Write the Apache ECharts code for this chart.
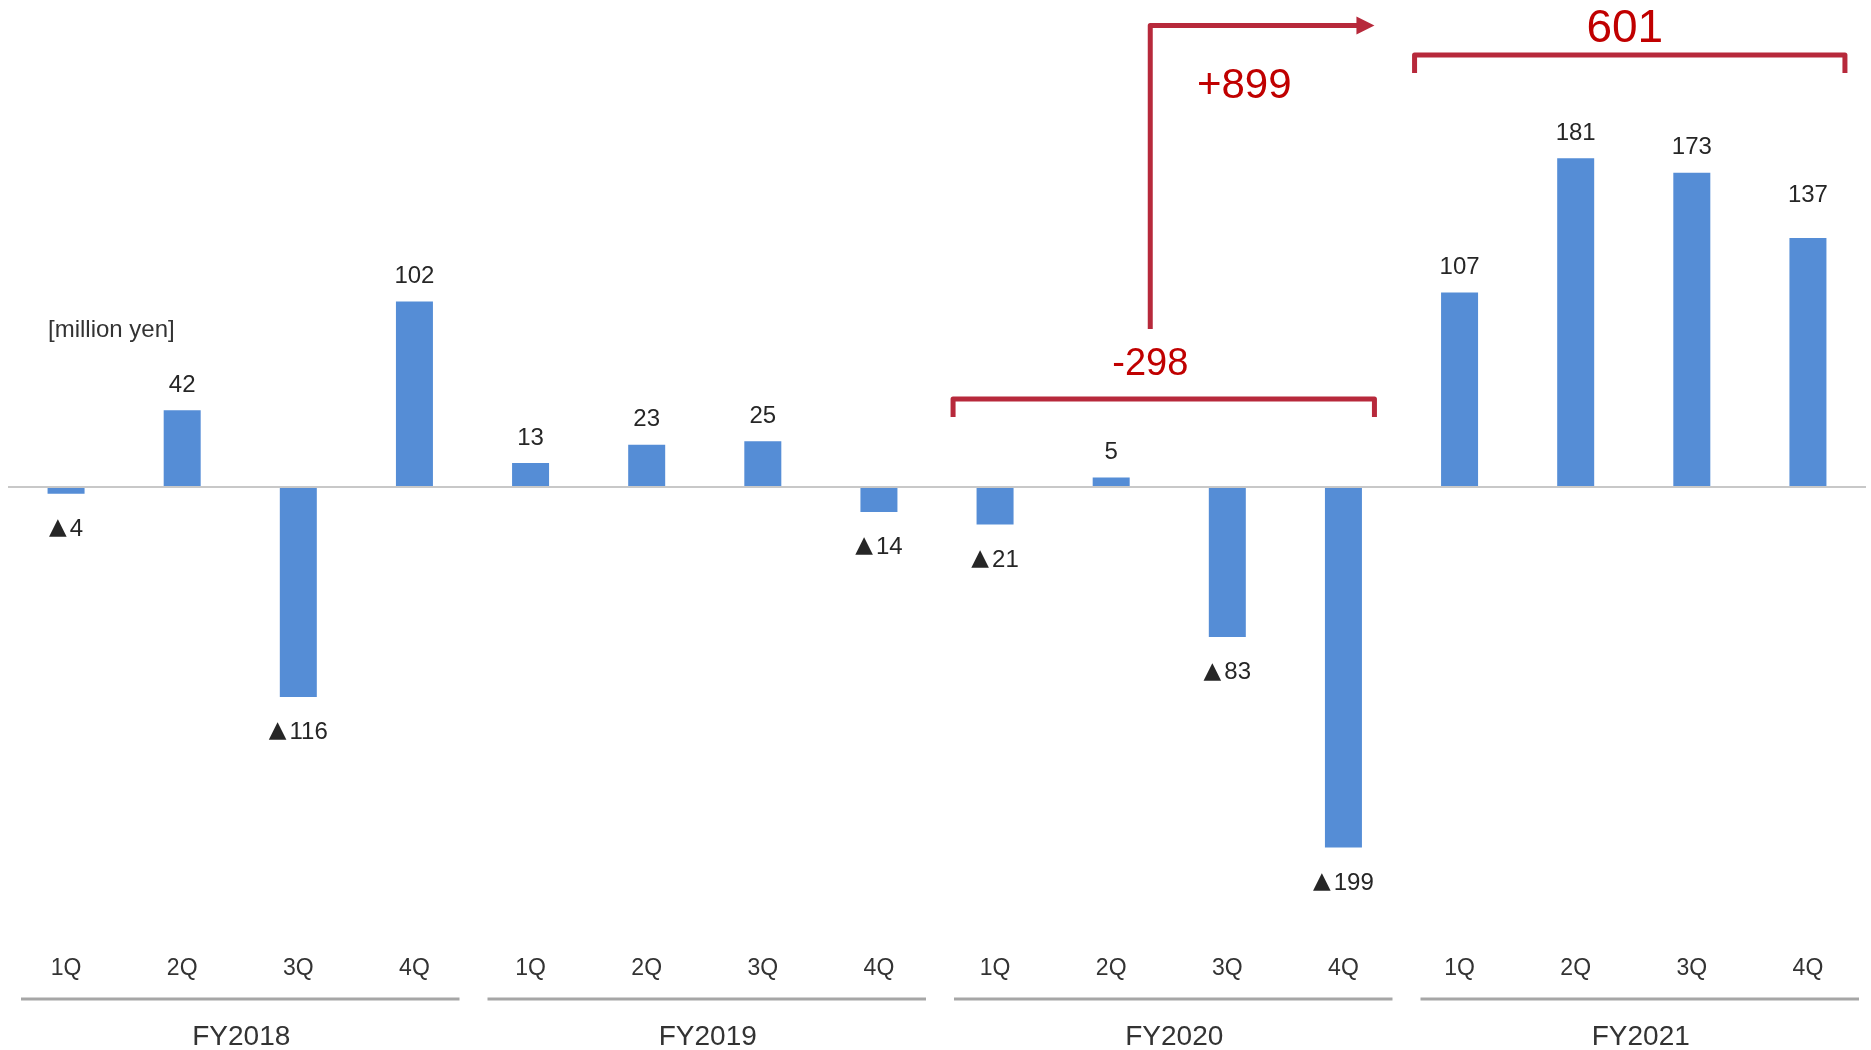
<!DOCTYPE html>
<html><head><meta charset="utf-8">
<script src="https://cdn.jsdelivr.net/npm/echarts@6/dist/echarts.min.js"></script>
<style>html,body{margin:0;padding:0;background:#fff}#c{width:1871px;height:1050px}</style>
</head><body><div id="c"></div>
<script>
// ---- data ----
const fiscalYears = ['FY2018', 'FY2019', 'FY2020', 'FY2021'];
const quarters = ['1Q', '2Q', '3Q', '4Q'];
const profit = [-4, 42, -116, 102, 13, 23, 25, -14, -21, 5, -83, -199, 107, 181, 173, 137];
const unitLabel = '[million yen]';
const fy2020Total = '-298';
const changeLabel = '+899';
const fy2021Total = '601';

const categories = [];
fiscalYears.forEach(fy => quarters.forEach(q => categories.push(fy + ' ' + q)));

const FONT = '"Liberation Sans", Arial, "DejaVu Sans", sans-serif';
const RED_LINE = '#B7293B';
const RED_TEXT = '#C00000';

const chart = echarts.init(document.getElementById('c'), null, {renderer: 'canvas'});
chart.setOption({
  backgroundColor: '#fff',
  animation: false,
  grid: {left: 8, right: 5, top: 33, bottom: 110, containLabel: false},
  xAxis: {
    type: 'category',
    data: categories,
    axisLine: {show: false, onZero: false},
    axisTick: {show: false},
    axisLabel: {
      formatter: v => v.split(' ')[1],
      color: '#333', fontSize: 23, fontFamily: FONT, margin: 17, interval: 0
    }
  },
  yAxis: {
    type: 'value', min: -250, max: 250,
    show: false, splitLine: {show: false}
  },
  series: [{
    type: 'bar',
    data: profit.map((v, i) => {
      if (v < 0) return {value: v, label: {position: 'bottom', distance: 23}};
      if (i === 15) return {value: v, label: {distance: 31}};
      return v;
    }),
    barWidth: 37,
    itemStyle: {color: '#558DD6'},
    label: {
      show: true,
      position: 'top',
      distance: 13,
      color: '#262626',
      fontSize: 24,
      fontFamily: FONT,
      formatter: p => p.value < 0 ? '{t|\u25B2}' + (-p.value) : String(p.value),
      rich: {
        t: {fontFamily: '"DejaVu Sans"', fontSize: 23, color: '#262626', padding: [0, 3, 2, 0]}
      }
    },
    markLine: {
      silent: true, symbol: 'none',
      label: {show: false},
      lineStyle: {color: '#C8C8C8', width: 2, type: 'solid'},
      data: [{yAxis: 0}]
    }
  }]
});

const cx = i => chart.convertToPixel({xAxisIndex: 0}, categories[i]);
const step = cx(1) - cx(0);
const gridBottom = chart.convertToPixel({yAxisIndex: 0}, -250);
const g = [];

// fiscal-year group lines and labels
fiscalYears.forEach((fy, k) => {
  const a = cx(k * 4) - step / 2 + 13 + k * 2;
  const b = a + 4 * step - 26;
  g.push({type: 'line', shape: {x1: a, y1: gridBottom + 59, x2: b, y2: gridBottom + 59},
    style: {stroke: '#A6A6A6', lineWidth: 3}});
  g.push({type: 'text', x: (a + b) / 2 + 1, y: gridBottom + 97,
    style: {text: fy, fill: '#333', font: '28px ' + FONT, textAlign: 'center', textVerticalAlign: 'middle'}});
});

// unit label
g.push({type: 'text', x: 48, y: 330,
  style: {text: unitLabel, fill: '#333', font: '24px ' + FONT, textAlign: 'left', textVerticalAlign: 'middle'}});

// FY2020 bracket
const b1 = cx(8) - 42, b2 = cx(11) + 31;
g.push({type: 'polyline', shape: {points: [[b1, 417], [b1, 399], [b2, 399], [b2, 417]]},
  style: {stroke: RED_LINE, lineWidth: 5, fill: null, lineJoin: 'round'}});
g.push({type: 'text', x: (cx(9) + cx(10)) / 2 - 19, y: 365,
  style: {text: fy2020Total, fill: RED_TEXT, font: '38px ' + FONT, textAlign: 'center', textVerticalAlign: 'middle'}});

// arrow
const ax = (cx(9) + cx(10)) / 2 - 19;
const tip = cx(11) + 31;
g.push({type: 'polyline', shape: {points: [[ax, 329], [ax, 25.5], [tip - 16, 25.5]]},
  style: {stroke: RED_LINE, lineWidth: 5, fill: null, lineJoin: 'round'}});
g.push({type: 'polygon', shape: {points: [[tip - 18, 16.5], [tip, 25.5], [tip - 18, 34.5]]},
  style: {fill: RED_LINE}});
g.push({type: 'text', x: ax + 94, y: 86,
  style: {text: changeLabel, fill: RED_TEXT, font: '42px ' + FONT, textAlign: 'center', textVerticalAlign: 'middle'}});

// FY2021 bracket
const c1 = cx(12) - 45, c2 = cx(15) + 37;
g.push({type: 'polyline', shape: {points: [[c1, 73], [c1, 55], [c2, 55], [c2, 73]]},
  style: {stroke: RED_LINE, lineWidth: 5, fill: null, lineJoin: 'round'}});
g.push({type: 'text', x: (cx(13) + cx(14)) / 2 - 9, y: 29,
  style: {text: fy2021Total, fill: RED_TEXT, font: '46px ' + FONT, textAlign: 'center', textVerticalAlign: 'middle'}});

chart.setOption({graphic: g});
</script>
</body></html>
